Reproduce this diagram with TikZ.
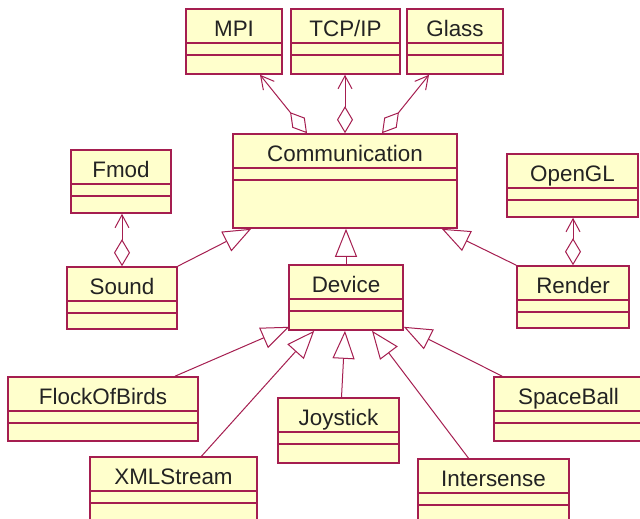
\documentclass[tikz,border=0pt]{standalone}
\usepackage{fontspec}
\setmainfont{Liberation Sans}
\usetikzlibrary{arrows.meta,calc,fit}

\definecolor{umlred}{RGB}{165,30,80}
\definecolor{umlfill}{RGB}{255,255,204}
\definecolor{umltext}{RGB}{35,35,35}

\tikzset{
	classbox/.style={draw=umlred, fill=umlfill, line width=0.8pt, inner sep=0pt},
	classname/.style={anchor=base, inner sep=0pt, text=umltext,
		font=\fontsize{11.2}{13}\selectfont},
	classline/.style={draw=umlred, line width=0.8pt},
	inherit/.style={draw=umlred, line width=0.5pt,
		-{Triangle[open,length=14pt,width=11pt]}},
	aggr/.style={draw=umlred, line width=0.5pt,
		{Diamond[open,length=13.5pt,width=8pt]}-{Straight Barb[length=6.5pt,width=7pt]}},
}

% name, left, top, right, bottom, title
\newcommand{\umlclass}[6]{%
	\node[classbox, fit={(#2,#3) (#4,#5)}] (#1) {};
	\node[classname] (#1-title) at ($(#1.north)+(0,28)$) {#6};
	\draw[classline] ($(#1.north west)+(0,35)$) -- ($(#1.north east)+(0,35)$);
	\draw[classline] ($(#1.north west)+(0,47)$) -- ($(#1.north east)+(0,47)$);
}

\begin{document}
\begin{tikzpicture}[x=0.5pt, y=-0.5pt]
		\clip (0,0) rectangle (640,518);
		\fill[white] (0,0) rectangle (640,518);
		
		\umlclass{mpi}{186}{9}{282}{74}{MPI}
		\umlclass{tcp}{291}{9}{400}{74}{TCP/IP}
		\umlclass{glass}{407}{9}{503}{74}{Glass}
		\umlclass{comm}{233}{134}{457}{228}{Communication}
		\umlclass{fmod}{71}{150}{171}{213}{Fmod}
		\umlclass{sound}{67}{267}{177}{329}{Sound}
		\umlclass{opengl}{507}{154}{638}{217}{OpenGL}
		\umlclass{render}{517}{266}{629}{328}{Render}
		\umlclass{device}{289}{265}{403}{330}{Device}
		
		\umlclass{flock}{8}{377}{198}{441}{FlockOfBirds}
		\umlclass{joystick}{278}{398}{399}{463}{Joystick}
		\umlclass{spaceball}{494}{377}{643}{441}{SpaceBall}
		\umlclass{xml}{90}{457}{257}{530}{XMLStream}
		\umlclass{intersense}{418}{459}{569}{530}{Intersense}
		
		% aggregations
		\draw[aggr] ($(comm.north)+(-38,0)$) -- ($(mpi.south)+(26,0)$);
		\draw[aggr] (comm.north) -- (comm.north |- tcp.south);
		\draw[aggr] ($(comm.north)+(37,0)$) -- ($(glass.south)+(-26,0)$);
		\draw[aggr] (sound.north) -- (sound.north |- fmod.south);
		\draw[aggr] (render.north) -- (render.north |- opengl.south);
		
		% generalizations
		\draw[inherit] (sound.north east) -- ($(comm.south west)+(19,0)$);
		\draw[inherit] (render.north west) -- ($(comm.south east)+(-16,0)$);
		\draw[inherit] (device.north) -- (device.north |- comm.south);
		
		\draw[inherit] ($(flock.north)+(72,0)$) -- ($(device.south west)+(1,-4)$);
		\draw[inherit] ($(xml.north)+(28,0)$) -- ($(device.south west)+(26,0)$);
		\draw[inherit] ($(joystick.north)+(3,0)$) -- ($(device.south)+(-1,0)$);
		\draw[inherit] ($(intersense.north)+(-25,0)$) -- ($(device.south)+(26,0)$);
		\draw[inherit] ($(spaceball.north west)+(9,0)$) -- ($(device.south east)+(0,-4)$);
	\end{tikzpicture}
\end{document}
